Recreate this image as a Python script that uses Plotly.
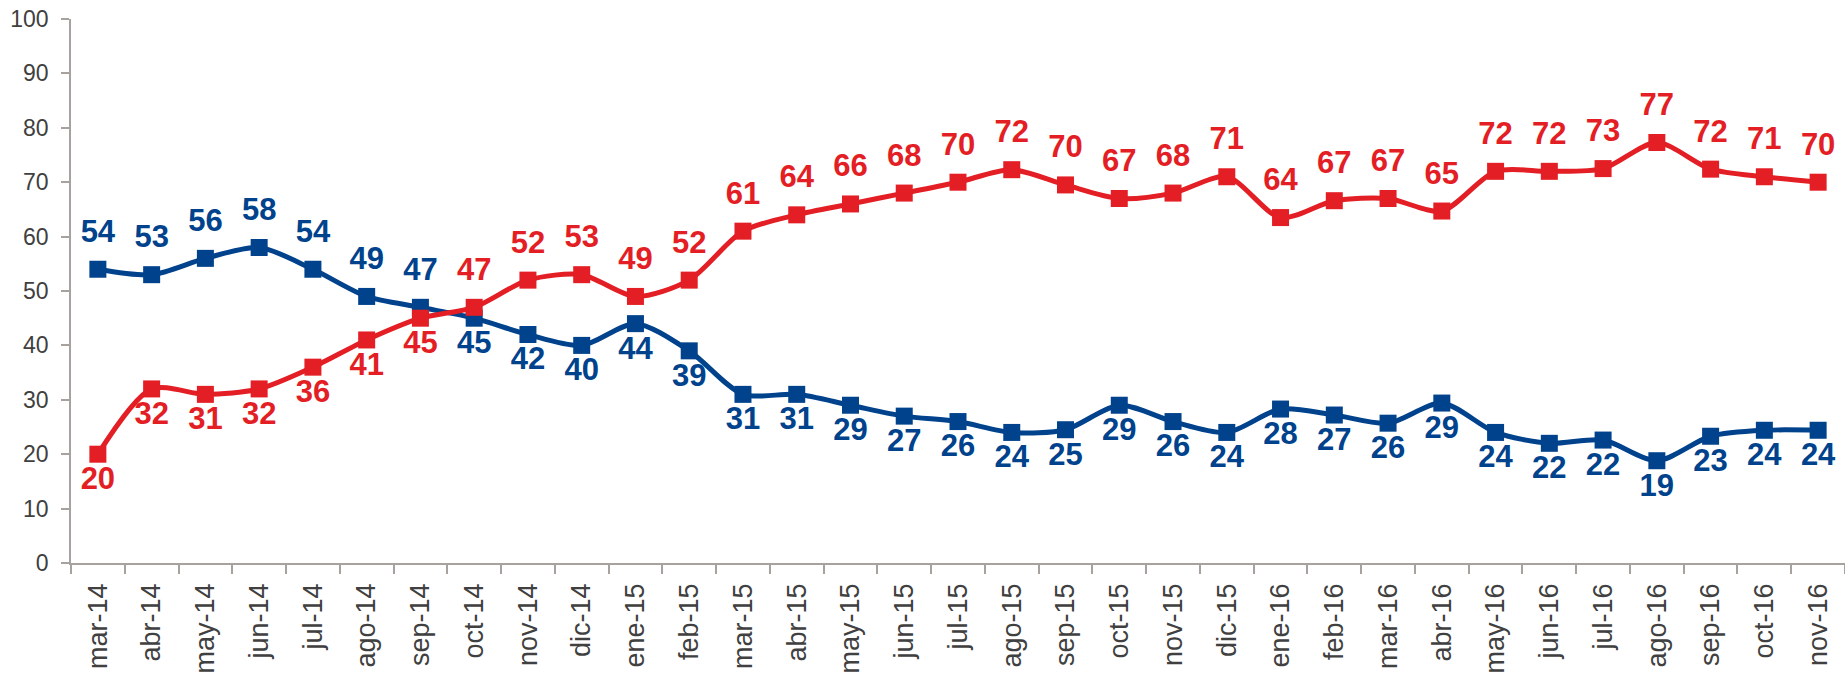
import plotly.graph_objects as go

categories = ["mar-14","abr-14","may-14","jun-14","jul-14","ago-14","sep-14","oct-14","nov-14","dic-14",
              "ene-15","feb-15","mar-15","abr-15","may-15","jun-15","jul-15","ago-15","sep-15","oct-15",
              "nov-15","dic-15","ene-16","feb-16","mar-16","abr-16","may-16","jun-16","jul-16","ago-16",
              "sep-16","oct-16","nov-16"]
blue_values = [54,53,56,58,54,49,47,45,42,40,44,39,31,31,29,27,26,24,24.5,29,26,24,28.3,27.2,25.7,29.4,24,22,22.6,18.8,23.3,24.4,24.4]
blue_labels = [54,53,56,58,54,49,47,45,42,40,44,39,31,31,29,27,26,24,25,29,26,24,28,27,26,29,24,22,22,19,23,24,24]
red_values = [20,32,31,32,36,41,45,47,52,53,49,52,61,64,66,68,70,72.3,69.5,67,68,71,63.5,66.6,67,64.7,72,72,72.5,77.3,72.4,71,70]
red_labels = [20,32,31,32,36,41,45,47,52,53,49,52,61,64,66,68,70,72,70,67,68,71,64,67,67,65,72,72,73,77,72,71,70]

BLUE = "#00428C"
RED = "#E31E24"
n_switch = 7  # index of oct-14: from here blue labels go below, red above

FONT = "Liberation Sans, Arial, sans-serif"
N = len(categories)

blue_top = [i < n_switch for i in range(N)]
red_top = [i >= n_switch for i in range(N)]

fig = go.Figure()


def add_series(values, labels, top_flags, color):
    fig.add_trace(go.Scatter(
        x=categories, y=values, mode="lines+markers",
        line=dict(color=color, width=5, shape="spline", smoothing=0.8),
        marker=dict(symbol="square", size=17, color=color),
        cliponaxis=False, showlegend=False, hoverinfo="skip"))
    # labels: invisible markers whose size sets the text offset from the point
    fig.add_trace(go.Scatter(
        x=categories, y=values, mode="markers+text",
        text=[str(v) for v in labels],
        textposition=["top center" if t else "bottom center" for t in top_flags],
        textfont=dict(family=FONT, size=31, color=color, weight="bold"),
        marker=dict(size=[30 if t else 17 for t in top_flags], opacity=0, color=color),
        cliponaxis=False, showlegend=False, hoverinfo="skip"))


add_series(blue_values, blue_labels, blue_top, BLUE)
add_series(red_values, red_labels, red_top, RED)

fig.update_layout(
    width=1845, height=674,
    margin=dict(l=71, r=0, t=19, b=111, autoexpand=False),
    plot_bgcolor="white", paper_bgcolor="white",
    font=dict(family=FONT, size=24, color="#404040"),
)
fig.update_xaxes(
    type="category", range=[-0.5, N - 0.5],
    showgrid=False, showline=True, linecolor="#A8A29E", linewidth=1.5,
    ticks="outside", tickson="boundaries", ticklen=9, tickcolor="#A8A29E", tickwidth=1.5,
    tickangle=-90, tickfont=dict(family=FONT, size=27, color="#404040"), zeroline=False,
    ticklabelstandoff=8, automargin=False)
fig.update_yaxes(
    range=[0, 100], dtick=10, showgrid=False, showline=True,
    linecolor="#A8A29E", linewidth=1.5, ticks="outside", ticklen=8,
    tickcolor="#A8A29E", tickwidth=1.5, tickfont=dict(family=FONT, size=23, color="#404040"),
    ticklabelstandoff=8, zeroline=False, automargin=False)

fig.write_html("out.html", config={"displayModeBar": False},
               post_script="document.body.style.margin='0';document.body.style.overflow='hidden';")
